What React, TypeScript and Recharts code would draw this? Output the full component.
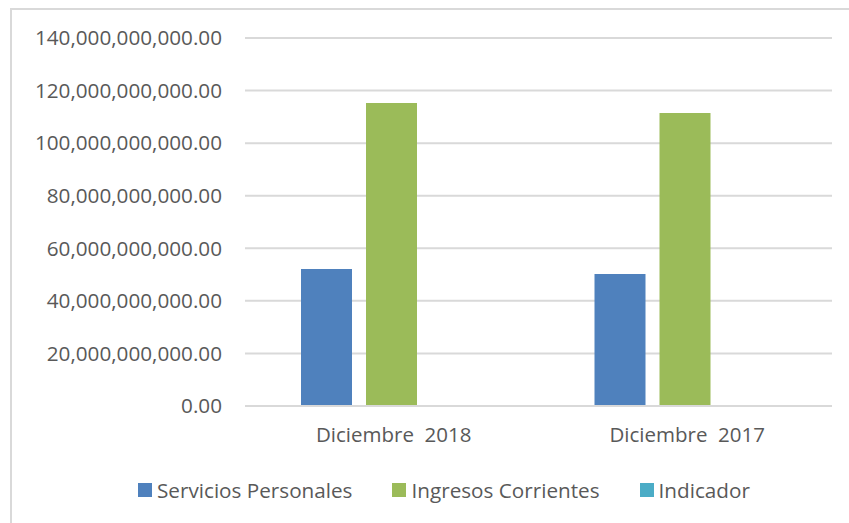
import React from "react";
import { BarChart, Bar, XAxis, YAxis, CartesianGrid, Legend } from "recharts";

const categories = ["Diciembre  2018", "Diciembre  2017"];
const serviciosPersonales = [52100000000, 50200000000];
const ingresosCorrientes = [115300000000, 111500000000];
const indicador = [0.45, 0.45];
const yTicks = [0, 20000000000, 40000000000, 60000000000, 80000000000, 100000000000, 120000000000, 140000000000];

const seriesDefs = [
  { key: "serv", name: "Servicios Personales", color: "#4F81BD" },
  { key: "ing", name: "Ingresos Corrientes", color: "#9BBB59" },
  { key: "ind", name: "Indicador", color: "#4BACC6" },
];

const data = categories.map((c, i) => ({
  name: c,
  serv: serviciosPersonales[i],
  ing: ingresosCorrientes[i],
  ind: indicador[i],
}));

const FONT = "'Open Sans', sans-serif";
const TEXT = "#595959";

const fmt = new Intl.NumberFormat("en-US", { minimumFractionDigits: 2, maximumFractionDigits: 2 });

const XTick = (props: any) => {
  const { x, y, payload } = props;
  return (
    <text x={x + 2} y={y} dy={16} textAnchor="middle" fill={TEXT} fontSize={20.5} fontFamily={FONT} style={{ whiteSpace: "pre" }}>
      {payload.value}
    </text>
  );
};

const LegendContent = () => (
  <div style={{ display: "flex", justifyContent: "flex-start", alignItems: "center", fontFamily: FONT, fontSize: 20.7, color: TEXT, paddingTop: 8, paddingLeft: 138 }}>
    {seriesDefs.map((s, i) => (
      <div key={s.key} style={{ display: "flex", alignItems: "center", marginLeft: i === 0 ? 0 : 40 }}>
        <span style={{ display: "inline-block", width: 14, height: 14, background: s.color, marginRight: 5 }} />
        <span>{s.name}</span>
      </div>
    ))}
  </div>
);

export default function App() {
  return (
    <div style={{ position: "absolute", left: 0, top: 0, width: 849, height: 523, background: "#fff" }}>
      <div style={{ position: "absolute", left: 10, top: 8, width: 839, height: 515, borderLeft: "2px solid #d9d9d9", borderTop: "2px solid #d9d9d9", boxSizing: "border-box" }} />
      <div style={{ position: "absolute", left: 0, top: 0 }}>
        <BarChart
          width={849}
          height={523}
          data={data}
          margin={{ top: 38, right: 17, bottom: 0, left: 0 }}
          barCategoryGap={56}
          barGap={14}
        >
          <CartesianGrid vertical={false} stroke="#d9d9d9" strokeWidth={2} />
          <XAxis
            dataKey="name"
            axisLine={{ stroke: "#d9d9d9", strokeWidth: 2 }}
            tickLine={false}
            tickSize={0}
            tickMargin={20}
            height={62}
            tick={<XTick />}
          />
          <YAxis
            domain={[0, 140000000000]}
            ticks={yTicks}
            width={245}
            axisLine={false}
            tickLine={false}
            tickSize={0}
            tickMargin={23}
            tickFormatter={(v: number) => fmt.format(v)}
            tick={{ fill: TEXT, fontSize: 20.7, fontFamily: FONT }}
          />
          <Legend verticalAlign="bottom" height={55} content={<LegendContent />} />
          {seriesDefs.map((s) => (
            <Bar key={s.key} dataKey={s.key} name={s.name} fill={s.color} isAnimationActive={false} />
          ))}
        </BarChart>
      </div>
    </div>
  );
}
